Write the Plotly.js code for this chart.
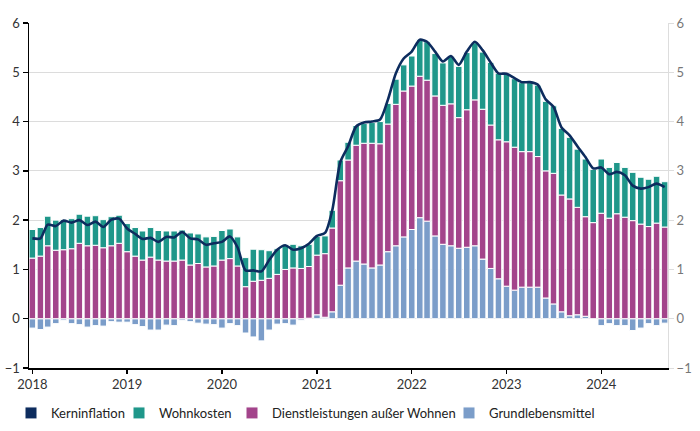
<!DOCTYPE html>
<html>
<head>
<meta charset="utf-8">
<script src="https://cdn.plot.ly/plotly-3.0.1.min.js"></script>
<style>html,body{margin:0;padding:0;background:#fff;}#chart{width:700px;height:431px;}</style>
</head>
<body>
<div id="chart"></div>
<script>
// Monthly dates Jan 2018 – Sep 2024
const months = [];
for (let y = 2018; y <= 2024; y++) {
  for (let m = 1; m <= 12; m++) {
    if (y === 2024 && m > 9) break;
    months.push(y + '-' + String(m).padStart(2, '0') + '-01');
  }
}

// Kerninflation (Linie)
const kerninflation = [
  1.63,1.63,1.91,1.88,1.99,1.95,2.00,1.90,1.97,1.86,2.01,2.03,
  1.83,1.72,1.62,1.64,1.56,1.66,1.65,1.76,1.63,1.61,1.50,1.53,
  1.56,1.67,1.45,0.98,0.98,0.96,1.19,1.40,1.49,1.40,1.43,1.52,
  1.68,1.74,2.20,3.18,3.50,3.90,3.98,4.00,4.04,4.44,4.98,5.28,
  5.42,5.66,5.62,5.42,5.22,5.33,5.15,5.42,5.62,5.45,5.20,4.98,
  4.97,4.88,4.80,4.80,4.75,4.45,4.30,3.88,3.72,3.50,3.28,3.05,
  3.07,2.93,2.98,2.91,2.70,2.64,2.67,2.74,2.67
];

// Grundlebensmittel
const grundlebensmittel = [
  -0.19,-0.22,-0.17,-0.10,-0.03,-0.10,-0.12,-0.17,-0.14,-0.15,-0.06,-0.07,
  -0.07,-0.12,-0.16,-0.23,-0.23,-0.13,-0.14,-0.03,-0.06,-0.09,-0.11,-0.12,
  -0.19,-0.10,-0.14,-0.29,-0.37,-0.45,-0.23,-0.11,-0.10,-0.13,-0.03,0.01,
  0.08,0.03,0.14,0.68,1.03,1.17,1.11,1.03,1.09,1.36,1.48,1.66,
  1.81,2.05,1.98,1.68,1.51,1.48,1.43,1.45,1.48,1.21,1.02,0.81,
  0.66,0.58,0.64,0.64,0.64,0.42,0.30,0.14,0.06,0.08,0.05,0.00,
  -0.14,-0.10,-0.14,-0.14,-0.24,-0.19,-0.10,-0.14,-0.09
];

// Dienstleistungen außer Wohnen
const dienstleistungen = [
  1.23,1.27,1.48,1.39,1.40,1.42,1.53,1.48,1.49,1.44,1.48,1.53,
  1.36,1.27,1.19,1.25,1.19,1.17,1.17,1.19,1.09,1.12,1.05,1.07,
  1.19,1.22,1.07,0.65,0.76,0.78,0.82,0.90,1.00,1.03,1.02,1.05,
  1.21,1.29,1.70,2.12,2.19,2.35,2.45,2.53,2.46,2.59,2.87,2.96,
  2.91,2.87,2.86,2.84,2.82,2.88,2.65,2.79,2.96,3.04,2.91,2.82,
  2.93,2.90,2.75,2.75,2.65,2.58,2.65,2.37,2.37,2.18,2.02,1.95,
  2.14,2.04,2.13,2.06,1.99,1.92,1.87,1.94,1.86
];

// Wohnkosten
const wohnkosten = [
  0.58,0.58,0.60,0.61,0.61,0.61,0.59,0.60,0.60,0.57,0.59,0.57,
  0.57,0.58,0.59,0.60,0.60,0.61,0.61,0.61,0.65,0.60,0.61,0.60,
  0.60,0.60,0.59,0.59,0.65,0.62,0.56,0.52,0.50,0.48,0.46,0.45,
  0.38,0.36,0.36,0.42,0.36,0.40,0.40,0.42,0.45,0.42,0.51,0.53,
  0.61,0.74,0.78,0.86,0.86,0.96,1.04,1.16,1.16,1.16,1.27,1.35,
  1.38,1.39,1.40,1.40,1.45,1.41,1.37,1.35,1.25,1.18,1.17,1.08,
  1.10,1.03,1.04,1.01,0.98,0.95,0.96,0.95,0.92
];

const yTicks = [-1, 0, 1, 2, 3, 4, 5, 6];
const yTickText = yTicks.map(v => v < 0 ? '\u2212' + Math.abs(v) : String(v));

const FONT = 'Lato, "Open Sans", sans-serif';
const colBlue = '#7b9dc9';
const colMag = '#a3448b';
const colTeal = '#1f978a';
const colNavy = '#0d2c5e';

const barLine = {color: '#ffffff', width: 1};

const traces = [
  {type: 'bar', name: 'Grundlebensmittel', x: months, y: grundlebensmittel, legend: 'legend4',
   marker: {color: colBlue, line: barLine}, hoverinfo: 'skip'},
  {type: 'bar', name: 'Dienstleistungen außer Wohnen', x: months, y: dienstleistungen, legend: 'legend3',
   marker: {color: colMag, line: barLine}, hoverinfo: 'skip'},
  {type: 'bar', name: 'Wohnkosten', x: months, y: wohnkosten, legend: 'legend2',
   marker: {color: colTeal, line: barLine}, hoverinfo: 'skip'},
  {type: 'bar', name: 'Kerninflation', x: [months[0]], y: [null], yaxis: 'y2', legend: 'legend',
   marker: {color: colNavy, line: barLine}, hoverinfo: 'skip'},
  {type: 'scatter', mode: 'lines', name: 'Kerninflation', x: months, y: kerninflation,
   yaxis: 'y2', showlegend: false,
   line: {color: colNavy, width: 2.6, shape: 'spline', smoothing: 0.7}, hoverinfo: 'skip'}
];

function leg(px) {
  return {orientation: 'h', xref: 'container', yref: 'container',
          x: px / 700, xanchor: 'left', y: 18 / 431, yanchor: 'middle',
          font: {family: FONT, size: 13, color: '#222222'},
          itemclick: false, itemdoubleclick: false, bgcolor: 'rgba(0,0,0,0)'};
}

const layout = {
  width: 700, height: 431,
  margin: {l: 29, r: 32, t: 23, b: 63, autoexpand: false},
  paper_bgcolor: '#ffffff', plot_bgcolor: '#ffffff',
  font: {family: FONT, size: 13, color: '#333333'},
  barmode: 'relative',
  bargap: 0.1,
  showlegend: true,
  legend: leg(11),
  legend2: leg(119),
  legend3: leg(232),
  legend4: leg(449),
  xaxis: {
    type: 'date',
    range: ['2017-12-19', '2024-09-14'],
    tick0: '2018-01-01', dtick: 'M12', tickformat: '%Y',
    showline: true, linecolor: '#000000', linewidth: 1.5,
    ticks: 'outside', ticklen: 4, tickcolor: '#000000', tickwidth: 1.5,
    showgrid: false, zeroline: false,
    tickfont: {family: FONT, size: 13, color: '#333333'}
  },
  yaxis: {
    range: [-1, 6], tickvals: yTicks, ticktext: yTickText,
    showline: true, linecolor: '#000000', linewidth: 1.5,
    ticks: 'outside', ticklen: 5, tickcolor: '#000000', tickwidth: 1.5,
    showgrid: true, gridcolor: '#dcdcdc', gridwidth: 1,
    zeroline: false,
    tickfont: {family: FONT, size: 13, color: '#333333'}
  },
  yaxis2: {
    range: [-1, 6], tickvals: yTicks, ticktext: yTickText,
    overlaying: 'y', side: 'right', anchor: 'x',
    showline: true, linecolor: '#dddddd', linewidth: 1,
    ticks: 'outside', ticklen: 5, tickcolor: '#dddddd',
    showgrid: false, zeroline: false,
    tickfont: {family: FONT, size: 13, color: '#777777'}
  }
};

Plotly.newPlot('chart', traces, layout, {displayModeBar: false, staticPlot: true});
</script>
</body>
</html>
